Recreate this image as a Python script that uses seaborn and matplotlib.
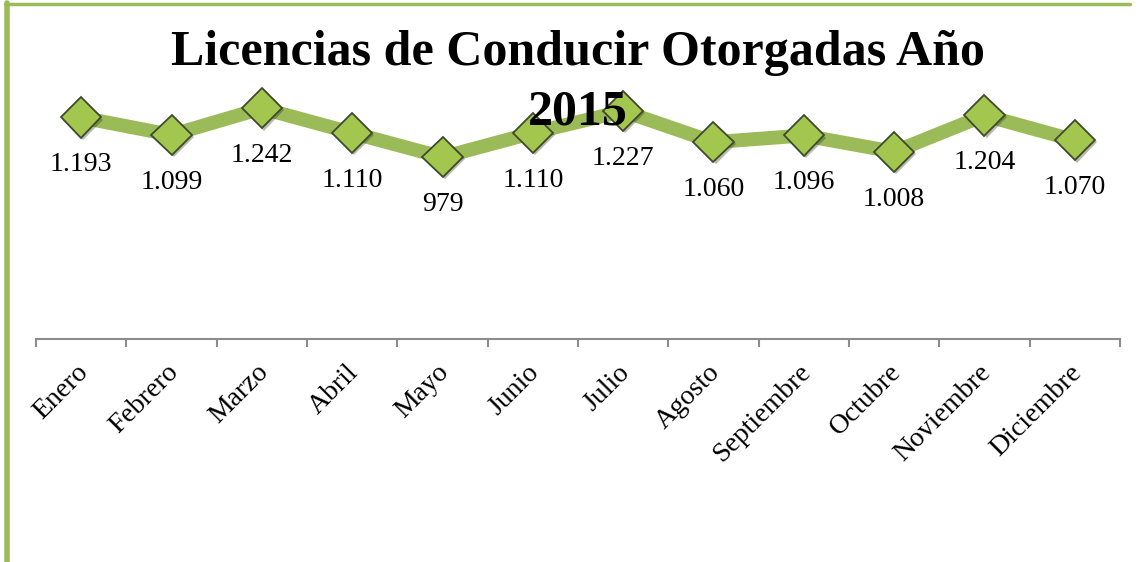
import numpy as np
import pandas as pd
import matplotlib
matplotlib.use('Agg')
import matplotlib.pyplot as plt
import matplotlib.patheffects as pe
import matplotlib.transforms as mtransforms
from matplotlib.lines import Line2D
import seaborn as sns

# Data
months = ['Enero', 'Febrero', 'Marzo', 'Abril', 'Mayo', 'Junio', 'Julio',
          'Agosto', 'Septiembre', 'Octubre', 'Noviembre', 'Diciembre']
licencias = [1193, 1099, 1242, 1110, 979, 1110, 1227, 1060, 1096, 1008, 1204, 1070]
labels = ['1.193', '1.099', '1.242', '1.110', '979', '1.110', '1.227',
          '1.060', '1.096', '1.008', '1.204', '1.070']
title = 'Licencias de Conducir Otorgadas Año\n2015'

GREEN = '#9BBB59'
MARKER_FACE = '#A3C64F'
MARKER_EDGE = '#3E4A2C'
AXIS_GRAY = '#8C8C8C'

sns.set_style('white')
plt.rcParams['font.family'] = ['Liberation Serif', 'DejaVu Serif']
plt.rcParams['text.color'] = 'black'
plt.rcParams['xtick.color'] = 'black'

df = pd.DataFrame({'pos': np.arange(len(months)), 'valor': licencias})

fig = plt.figure(figsize=(11.39, 5.62), dpi=100)
ax = fig.add_axes([36 / 1139, (562 - 339) / 562, (1120 - 36) / 1139, (339 - 79) / 562])

# line
sns.lineplot(data=df, x='pos', y='valor', ax=ax, color=GREEN, linewidth=10,
             solid_capstyle='round', zorder=2)
# markers with shadow
ax.plot(df['pos'], df['valor'], linestyle='none', marker='D', markersize=20.5,
        markerfacecolor=MARKER_FACE, markeredgecolor=MARKER_EDGE,
        markeredgewidth=1.3, zorder=3,
        path_effects=[pe.SimplePatchShadow(offset=(1.5, -1.5), alpha=0.35),
                      pe.Normal()])

for x, y, lab in zip(df['pos'], df['valor'], labels):
    ax.annotate(lab, (x, y), xytext=(0, -34), textcoords='offset points',
                ha='center', va='center', fontsize=20, color='black')

ax.set_xlim(-0.5, len(months) - 0.5)
ax.set_ylim(0, 1400)
ax.set_yticks([])
ax.set_xticks(np.arange(len(months)))
ax.set_xticklabels(months, rotation=45, ha='right', rotation_mode='anchor',
                   fontsize=20, color='black')
ax.set_xticks(np.arange(-0.5, len(months)), minor=True)
ax.tick_params(axis='x', which='major', length=0, pad=15)
ax.tick_params(axis='x', which='minor', length=6, width=1.5, color=AXIS_GRAY,
               direction='out', bottom=True)
# nudge the rotated month names a little to the left
shift = mtransforms.ScaledTranslation(-6 / 100, 0, fig.dpi_scale_trans)
for lbl in ax.get_xticklabels():
    lbl.set_transform(lbl.get_transform() + shift)
ax.set_xlabel('')
ax.set_ylabel('')
for side in ['top', 'right', 'left']:
    ax.spines[side].set_visible(False)
ax.spines['bottom'].set_color(AXIS_GRAY)
ax.spines['bottom'].set_linewidth(1.5)
ax.patch.set_alpha(0)

fig.text(578 / 1139, 1 - 83 / 562, title, ha='center', va='center',
         fontsize=36, fontweight='bold', linespacing=1.38, color='black',
         zorder=5)

# green frame (only top and left visible in the crop)
fig.add_artist(Line2D([5 / 1139, 1130 / 1139], [1 - 4 / 562, 1 - 4 / 562],
                      transform=fig.transFigure, color=GREEN, linewidth=2.5))
fig.add_artist(Line2D([6.5 / 1139, 6.5 / 1139], [0, 1 - 3 / 562],
                      transform=fig.transFigure, color=GREEN, linewidth=4))

fig.savefig('out.png', dpi=100)
